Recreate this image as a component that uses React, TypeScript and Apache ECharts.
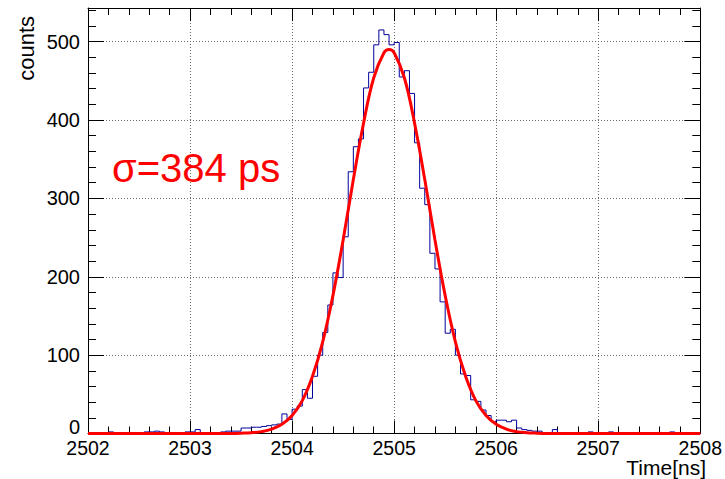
import React, { useEffect, useRef } from "react";
import * as echarts from "echarts";

// ---------- data ----------
const X_MIN = 2502;
const X_MAX = 2508;
const Y_MAX = 543;
const BIN_START = 2502;
const BIN_WIDTH = 0.05;

// histogram counts, 120 bins of 0.05 ns from 2502 to 2508
const COUNTS = [
  0, 0, 0, 0, 2, 0, 0, 0, 0, 0,
  0, 2, 2, 3, 2, 0, 0, 0, 0, 2,
  2, 5, 1, 0, 0, 0, 2, 3, 3, 3,
  7, 7, 8, 8, 9, 10, 11, 12, 25, 18,
  31, 35, 56, 45, 73, 100, 129, 164, 205, 199,
  251, 334, 366, 376, 441, 461, 496, 515, 509, 496,
  499, 455, 463, 434, 371, 313, 292, 230, 210, 168,
  128, 133, 100, 76, 74, 43, 41, 30, 23, 15,
  17, 17, 15, 17, 7, 5, 4, 3, 3, 1,
  0, 5, 0, 0, 0, 0, 0, 0, 2, 0,
  0, 0, 2, 0, 0, 0, 0, 0, 0, 0,
  0, 0, 0, 0, 2, 0, 0, 0, 0, 0,
];

// fit curve points
const FIT_X = [
  2502, 2503, 2503.4, 2503.5, 2503.6, 2503.7, 2503.8, 2503.9, 2504.0, 2504.1,
  2504.2, 2504.3, 2504.4, 2504.5, 2504.6, 2504.7, 2504.8, 2504.9, 2504.95, 2505.0,
  2505.1, 2505.2, 2505.3, 2505.4, 2505.5, 2505.6, 2505.7, 2505.8, 2505.9, 2506.0,
  2506.1, 2506.2, 2506.3, 2506.4, 2506.5, 2507, 2508,
];
const FIT_Y = [
  0, 0, 0.1, 0.4, 1, 2.4, 5.5, 11.7, 23, 42,
  73, 117, 176, 247, 324, 396, 454, 486, 490, 486,
  454, 396, 324, 247, 176, 117, 73, 42, 23, 11.7,
  5.5, 2.4, 1, 0.4, 0.1, 0, 0,
];

const Y_LABEL = "counts";
const X_LABEL = "Time[ns]";
const ANNOTATION = "σ=384 ps";

const FONT = '"Liberation Sans", Arial, Helvetica, sans-serif';

export default function App() {
  const ref = useRef<HTMLDivElement>(null);

  useEffect(() => {
    if (!ref.current) return;
    const chart = echarts.init(ref.current, undefined, { renderer: "svg" });

    const histData: [number, number][] = COUNTS.map((c, i) => [
      +(BIN_START + i * BIN_WIDTH).toFixed(3),
      c,
    ]);
    histData.push([X_MAX, COUNTS[COUNTS.length - 1]]);

    const fitData = FIT_X.map((x, i) => [x, FIT_Y[i]]);

    const black = { color: "#000", width: 1 };
    const grid = { color: "#6a6a6a", width: 1, type: [1, 2] as any };

    chart.setOption({
      animation: false,
      backgroundColor: "#fff",
      grid: { left: 88, right: 23, top: 8, bottom: 45.5 },
      xAxis: [
        {
          type: "value",
          min: X_MIN,
          max: X_MAX,
          interval: 1,
          position: "bottom",
          axisLine: { show: true, onZero: false, lineStyle: black },
          axisTick: { show: true, inside: true, length: 13, lineStyle: black },
          minorTick: { show: true, splitNumber: 5, length: 7, lineStyle: black },
          axisLabel: {
            fontSize: 19.5,
            color: "#000",
            margin: 4,
            fontFamily: FONT,
            formatter: (v: number) => String(v),
          },
          splitLine: { show: true, lineStyle: grid },
        },
        {
          type: "value",
          min: X_MIN,
          max: X_MAX,
          interval: 1,
          position: "top",
          axisLine: { show: true, onZero: false, lineStyle: black },
          axisTick: { show: true, inside: true, length: 13, lineStyle: black },
          minorTick: { show: true, splitNumber: 5, length: 7, lineStyle: black },
          axisLabel: { show: false },
          splitLine: { show: false },
        },
      ],
      yAxis: [
        {
          type: "value",
          min: 0,
          max: Y_MAX,
          interval: 100,
          position: "left",
          axisLine: { show: true, onZero: false, lineStyle: black },
          axisTick: { show: true, inside: true, length: 16, lineStyle: black },
          axisLabel: {
            fontSize: 20,
            color: "#000",
            margin: 8,
            fontFamily: FONT,
            formatter: (v: number) =>
              v === 0 ? "{z|0}" : v % 100 === 0 ? String(v) : "",
            rich: {
              z: {
                fontSize: 20,
                fontFamily: FONT,
                color: "#000",
                padding: [0, 0, 14, 0],
              },
            },
          },
          splitLine: { show: true, lineStyle: grid },
        },
        {
          type: "value",
          min: 0,
          max: Y_MAX,
          interval: 20,
          position: "left",
          axisLine: { show: false },
          axisTick: { show: true, inside: true, length: 8, lineStyle: black },
          axisLabel: { show: false },
          splitLine: { show: false },
        },
        {
          type: "value",
          min: 0,
          max: Y_MAX,
          interval: 100,
          position: "right",
          axisLine: { show: true, onZero: false, lineStyle: black },
          axisTick: { show: true, inside: true, length: 16, lineStyle: black },
          axisLabel: { show: false },
          splitLine: { show: false },
        },
        {
          type: "value",
          min: 0,
          max: Y_MAX,
          interval: 20,
          position: "right",
          axisLine: { show: false },
          axisTick: { show: true, inside: true, length: 8, lineStyle: black },
          axisLabel: { show: false },
          splitLine: { show: false },
        },
      ],
      series: [
        {
          type: "line",
          name: "hist",
          xAxisIndex: 0,
          yAxisIndex: 0,
          data: histData,
          step: "end",
          symbol: "none",
          lineStyle: { color: "#000099", width: 1 },
          z: 3,
        },
        {
          type: "line",
          name: "fit",
          xAxisIndex: 0,
          yAxisIndex: 0,
          data: fitData,
          smooth: 0.4,
          symbol: "none",
          lineStyle: { color: "#ff0000", width: 3 },
          z: 4,
        },
      ],
      graphic: [
        {
          type: "text",
          x: 112,
          y: 168,
          style: {
            text: ANNOTATION,
            fill: "#ff0000",
            fontSize: 40,
            fontFamily: FONT,
            align: "left",
            verticalAlign: "middle",
          },
          z: 10,
        },
        {
          type: "text",
          x: 26,
          y: 16,
          rotation: Math.PI / 2,
          style: {
            text: Y_LABEL,
            fill: "#000",
            fontSize: 22,
            fontFamily: FONT,
            align: "right",
            verticalAlign: "middle",
          },
        },
        {
          type: "text",
          x: 706,
          y: 467,
          style: {
            text: X_LABEL,
            fill: "#000",
            fontSize: 21,
            fontFamily: FONT,
            align: "right",
            verticalAlign: "middle",
          },
        },
      ],
    });

    return () => chart.dispose();
  }, []);

  return (
    <div
      ref={ref}
      style={{ position: "absolute", left: 0, top: 0, width: 725, height: 479 }}
    />
  );
}
